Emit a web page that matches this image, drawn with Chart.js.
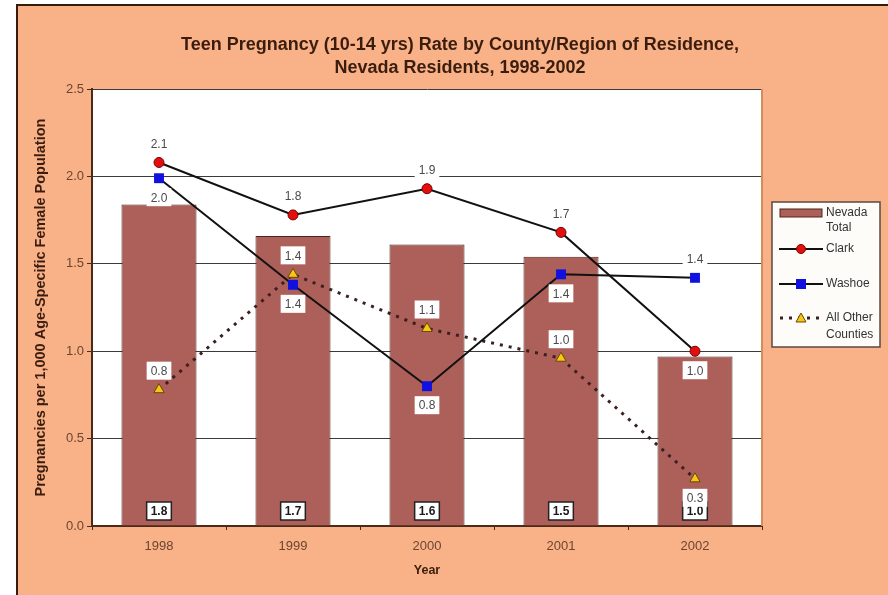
<!DOCTYPE html>
<html lang="en">
  <head>
    <meta charset="UTF-8" />
    <script src="https://cdn.jsdelivr.net/npm/chart.js@4.4.1/dist/chart.umd.min.js"></script>
    <title>Teen Pregnancy Rate</title>
    <style>
      body { margin: 0; background: #fff; }
      #frame {
        position: absolute; left: 16px; top: 4px; width: 870px; height: 589px;
        background: #f9b287; border-top: 2px solid #3a1a0a; border-left: 2px solid #3a1a0a;
      }
      canvas { display: block; }
    </style>
  </head>
  <body>
    <div id="frame"><canvas id="myChart" width="870" height="589"></canvas></div>
    <script>
      const years = ["1998", "1999", "2000", "2001", "2002"];
      const nevadaTotal = [1.84, 1.66, 1.61, 1.54, 0.97];
      const clark = [2.08, 1.78, 1.93, 1.68, 1.0];
      const washoe = [1.99, 1.38, 0.8, 1.44, 1.42];
      const otherCounties = [0.78, 1.44, 1.13, 0.96, 0.27];
      const yTicks = [0, 0.5, 1.0, 1.5, 2.0, 2.5];

      const FONT = "'Liberation Sans', Arial, sans-serif";
      const BAR_FILL = "#ad5f59";
      const BAR_EDGE = "#4a2418";

      // white plot area + orange right edge
      const plotBg = {
        id: "plotBg",
        beforeDraw(chart) {
          const { ctx, chartArea: a } = chart;
          ctx.save();
          ctx.fillStyle = "#ffffff";
          ctx.fillRect(a.left, a.top, a.right - a.left, a.bottom - a.top);
          ctx.restore();
        },
        afterDraw(chart) {
          const { ctx, chartArea: a } = chart;
          ctx.save();
          ctx.strokeStyle = "#d98a5c";
          ctx.lineWidth = 2;
          ctx.beginPath();
          ctx.moveTo(a.right, a.top);
          ctx.lineTo(a.right, a.bottom);
          ctx.stroke();
          ctx.restore();
        },
      };

      function labelBox(ctx, txt, x, y, bold, border) {
        ctx.font = (bold ? "bold " : "") + "12px " + FONT;
        const w = ctx.measureText(txt).width + 8;
        const h = 18;
        ctx.fillStyle = "#ffffff";
        ctx.fillRect(x - w / 2, y - h / 2, w, h);
        if (border) {
          ctx.strokeStyle = "#222";
          ctx.lineWidth = 1.5;
          ctx.strokeRect(x - w / 2, y - h / 2, w, h);
        }
        ctx.fillStyle = bold ? "#1a1a1a" : "#4a4a4a";
        ctx.textAlign = "center";
        ctx.textBaseline = "middle";
        ctx.fillText(txt, x, y + 1);
      }

      const valueLabels = {
        id: "valueLabels",
        afterDatasetsDraw(chart) {
          const { ctx, chartArea: a } = chart;
          ctx.save();
          chart.data.datasets.forEach((ds, i) => {
            const meta = chart.getDatasetMeta(i);
            meta.data.forEach((el, j) => {
              const txt = ds.data[j].toFixed(1);
              if (ds.type === "bar") {
                labelBox(ctx, txt, el.x, a.bottom - 15, true, true);
              } else {
                const dy = ds.labelPos[j] === "above" ? -19 : 19;
                labelBox(ctx, txt, el.x, el.y + dy, false, false);
              }
            });
          });
          ctx.restore();
        },
      };

      // legend box drawn in the space kept free by the right axis
      const sideLegend = {
        id: "sideLegend",
        afterDraw(chart) {
          const ctx = chart.ctx;
          const x0 = 754, y0 = 196, w = 108, h = 145;
          ctx.save();
          ctx.fillStyle = "#fdfcf8";
          ctx.fillRect(x0, y0, w, h);
          ctx.strokeStyle = "#5a4a40";
          ctx.lineWidth = 1.5;
          ctx.strokeRect(x0, y0, w, h);

          ctx.font = "12px " + FONT;
          ctx.textAlign = "left";
          ctx.textBaseline = "middle";
          const tx = x0 + 54;

          // bar
          ctx.fillStyle = BAR_FILL;
          ctx.fillRect(x0 + 8, y0 + 7, 42, 8);
          ctx.strokeStyle = BAR_EDGE;
          ctx.lineWidth = 1;
          ctx.strokeRect(x0 + 8, y0 + 7, 42, 8);
          ctx.fillStyle = "#333";
          ctx.fillText("Nevada", tx, y0 + 11);
          ctx.fillText("Total", tx, y0 + 26);

          // clark
          let ly = y0 + 47;
          ctx.strokeStyle = "#111";
          ctx.lineWidth = 2;
          ctx.beginPath(); ctx.moveTo(x0 + 7, ly); ctx.lineTo(x0 + 51, ly); ctx.stroke();
          ctx.fillStyle = "#e01010";
          ctx.beginPath(); ctx.arc(x0 + 29, ly, 4.5, 0, Math.PI * 2); ctx.fill();
          ctx.strokeStyle = "#800000"; ctx.lineWidth = 1; ctx.stroke();
          ctx.fillStyle = "#333";
          ctx.fillText("Clark", tx, ly);

          // washoe
          ly = y0 + 82;
          ctx.strokeStyle = "#111";
          ctx.lineWidth = 2;
          ctx.beginPath(); ctx.moveTo(x0 + 7, ly); ctx.lineTo(x0 + 51, ly); ctx.stroke();
          ctx.fillStyle = "#1010e0";
          ctx.fillRect(x0 + 24, ly - 5, 10, 10);
          ctx.fillStyle = "#333";
          ctx.fillText("Washoe", tx, ly);

          // other counties
          ly = y0 + 116;
          ctx.strokeStyle = "#3a2020";
          ctx.lineWidth = 3;
          ctx.setLineDash([3, 6]);
          ctx.beginPath(); ctx.moveTo(x0 + 8, ly); ctx.lineTo(x0 + 51, ly); ctx.stroke();
          ctx.setLineDash([]);
          ctx.fillStyle = "#f5c518";
          ctx.beginPath();
          ctx.moveTo(x0 + 29, ly - 5); ctx.lineTo(x0 + 34, ly + 4); ctx.lineTo(x0 + 24, ly + 4);
          ctx.closePath(); ctx.fill();
          ctx.strokeStyle = "#6a4a00"; ctx.lineWidth = 1; ctx.stroke();
          ctx.fillStyle = "#333";
          ctx.fillText("All Other", tx, ly);
          ctx.fillText("Counties", tx, ly + 17);
          ctx.restore();
        },
      };

      const ctx = document.getElementById("myChart").getContext("2d");
      const myChart = new Chart(ctx, {
        data: {
          labels: years,
          datasets: [
            {
              type: "bar",
              label: "Nevada Total",
              data: nevadaTotal,
              backgroundColor: BAR_FILL,
              borderColor: BAR_EDGE,
              borderWidth: 1,
              barPercentage: 0.56,
              categoryPercentage: 1,
              order: 10,
            },
            {
              type: "line",
              label: "Clark",
              data: clark,
              borderColor: "#111",
              borderWidth: 2,
              pointStyle: "circle",
              pointRadius: 5,
              pointBackgroundColor: "#e01010",
              pointBorderColor: "#800000",
              pointBorderWidth: 1,
              tension: 0,
              order: 2,
              labelPos: ["above", "above", "above", "above", "below"],
            },
            {
              type: "line",
              label: "Washoe",
              data: washoe,
              borderColor: "#111",
              borderWidth: 2,
              pointStyle: "rect",
              pointRadius: 7,
              pointBackgroundColor: "#1010e0",
              pointBorderColor: "#1010e0",
              pointBorderWidth: 0,
              tension: 0,
              order: 1,
              labelPos: ["below", "below", "below", "below", "above"],
            },
            {
              type: "line",
              label: "All Other Counties",
              data: otherCounties,
              borderColor: "#3a2020",
              borderWidth: 3,
              borderDash: [3, 6],
              pointStyle: "triangle",
              pointRadius: 6,
              pointBackgroundColor: "#f5c518",
              pointBorderColor: "#6a4a00",
              pointBorderWidth: 1,
              tension: 0,
              order: 3,
              labelPos: ["above", "above", "above", "above", "below"],
            },
          ],
        },
        options: {
          responsive: false,
          animation: false,
          layout: { padding: { left: 14, right: 0, top: 0, bottom: 17 } },
          plugins: {
            legend: { display: false },
            tooltip: { enabled: false },
            title: {
              display: true,
              text: [
                "Teen Pregnancy (10-14 yrs) Rate by County/Region of Residence,",
                "Nevada Residents, 1998-2002",
              ],
              color: "#3b1d0f",
              font: { family: FONT, size: 18, weight: "bold", lineHeight: 1.28 },
              padding: { top: 27.5, bottom: 9.5 },
            },
          },
          scales: {
            x: {
              offset: true,
              grid: { display: true, drawOnChartArea: false, drawTicks: true, tickLength: 4, color: "#4a2a1a", offset: true },
              border: { display: true, color: "#4a2a1a", width: 2 },
              ticks: { color: "#6b4530", font: { family: FONT, size: 13 }, padding: 9 },
              title: {
                display: true,
                text: "Year",
                color: "#3b1d0f",
                font: { family: FONT, size: 12.5, weight: "bold" },
                padding: 0,
              },
              afterFit(scale) { scale.height = 52; },
            },
            y: {
              min: 0,
              max: 2.5,
              afterBuildTicks(scale) { scale.ticks = yTicks.map((v) => ({ value: v })); },
              grid: { color: "#3a3a3a", lineWidth: 1, drawTicks: true, tickLength: 5, tickColor: "#4a2a1a" },
              border: { display: true, color: "#4a2a1a", width: 2 },
              ticks: {
                color: "#6b4530",
                font: { family: FONT, size: 13 },
                padding: 3,
                callback: (v) => Number(v).toFixed(1),
              },
              title: {
                display: true,
                text: "Pregnancies per 1,000 Age-Specific Female Population",
                color: "#3b1d0f",
                font: { family: FONT, size: 14.5, weight: "bold" },
                padding: 0,
              },
              afterFit(scale) { scale.width = 60; },
            },
            y2: {
              position: "right",
              display: true,
              grid: { display: false },
              border: { display: false },
              ticks: { display: false },
              afterFit(scale) { scale.width = 126; },
            },
          },
        },
        plugins: [plotBg, valueLabels, sideLegend],
      });
    </script>
  </body>
</html>
